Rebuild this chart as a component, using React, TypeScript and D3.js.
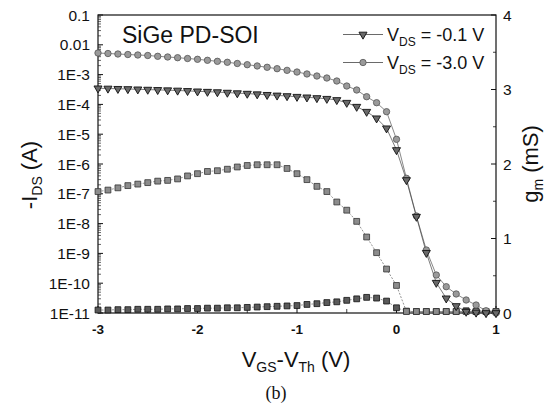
import React from "react";
import * as d3 from "d3";

// V_GS - V_Th (V)
const VGS = [
  -3.0, -2.9, -2.8, -2.7, -2.6, -2.5, -2.4, -2.3, -2.2, -2.1, -2.0, -1.9, -1.8, -1.7,
  -1.6, -1.5, -1.4, -1.3, -1.2, -1.1, -1.0, -0.9, -0.8, -0.7, -0.6, -0.5, -0.4, -0.3,
  -0.2, -0.1, 0.0, 0.1, 0.2, 0.3, 0.4, 0.5, 0.6, 0.7, 0.8, 0.9, 1.0,
];

// -I_DS (A), V_DS = -0.1 V (triangles)
const ID_VDS01 = [
  3.47e-4, 3.42e-4, 3.34e-4, 3.29e-4, 3.21e-4, 3.14e-4, 3.07e-4, 3.0e-4, 2.93e-4, 2.84e-4,
  2.75e-4, 2.67e-4, 2.59e-4, 2.49e-4, 2.39e-4, 2.3e-4, 2.2e-4, 2.1e-4, 2.0e-4, 1.91e-4,
  1.81e-4, 1.73e-4, 1.64e-4, 1.55e-4, 1.41e-4, 1.14e-4, 8.38e-5, 5.69e-5, 3.42e-5, 1.58e-5,
  2.95e-6, 2.9e-7, 1.71e-8, 1.05e-9, 1.04e-10, 3.11e-11, 1.72e-11, 1.11e-11, 1.04e-11, 1.0e-11,
  1.0e-11,
];

// -I_DS (A), V_DS = -3.0 V (circles)
const ID_VDS30 = [
  5.31e-3, 5.1e-3, 4.91e-3, 4.72e-3, 4.55e-3, 4.38e-3, 4.11e-3, 3.9e-3, 3.69e-3, 3.47e-3,
  3.26e-3, 3.02e-3, 2.79e-3, 2.59e-3, 2.36e-3, 2.15e-3, 1.95e-3, 1.76e-3, 1.58e-3, 1.39e-3,
  1.22e-3, 1.05e-3, 8.97e-4, 7.69e-4, 6.1e-4, 4.14e-4, 3.04e-4, 1.81e-4, 1.14e-4, 5.69e-5,
  6.74e-6, 3.31e-7, 1.8e-8, 1.3e-9, 1.88e-10, 7.63e-11, 4.35e-11, 2.73e-11, 1.85e-11, 1.19e-11,
  1.0e-11,
];

// g_m (mS), V_DS = -3.0 V (upper squares)
const GM_VDS30 = [
  1.63, 1.65, 1.68, 1.71, 1.73, 1.75, 1.77, 1.78, 1.8, 1.84, 1.87, 1.9, 1.91, 1.93, 1.96,
  1.98, 1.99, 1.99, 1.99, 1.94, 1.87, 1.79, 1.7, 1.63, 1.49, 1.38, 1.23, 1.02, 0.81, 0.59,
  0.37, 0.02, 0.02, 0.02, 0.02, 0.02, 0.02, 0.02, 0.02, 0.02, 0.02,
];

// g_m (mS), V_DS = -0.1 V (lower squares)
const GM_VDS01 = [
  0.04, 0.04, 0.045, 0.045, 0.05, 0.05, 0.05, 0.055, 0.055, 0.06, 0.06, 0.065, 0.065, 0.07,
  0.07, 0.075, 0.08, 0.085, 0.09, 0.095, 0.1, 0.115, 0.125, 0.14, 0.15, 0.17, 0.19, 0.21,
  0.2, 0.16, 0.07, 0.025, 0.02, 0.02, 0.02, 0.02, 0.02, 0.03, 0.02, 0.02, 0.02,
];

const LEFT_TICK_VALUES = [1e-1, 1e-2, 1e-3, 1e-4, 1e-5, 1e-6, 1e-7, 1e-8, 1e-9, 1e-10, 1e-11];
const LEFT_TICK_LABELS = ["0.1", "0.01", "1E-3", "1E-4", "1E-5", "1E-6", "1E-7", "1E-8", "1E-9", "1E-10", "1E-11"];
const RIGHT_TICKS = [0, 1, 2, 3, 4];
const X_TICKS = [-3, -2, -1, 0, 1];

const SANS = "'Liberation Sans', Arial, Helvetica, sans-serif";

const App = () => {
  const width = 552;
  const height = 406;
  const left = 98, right = 496, top = 15, bottom = 313;

  const x = d3.scaleLinear().domain([-3, 1]).range([left, right]);
  const yL = d3.scaleLog().domain([1e-11, 0.1]).range([bottom, top]);
  const yR = d3.scaleLinear().domain([0, 4]).range([bottom, top]);

  const lineL = d3.line<number>().x((_, i) => x(VGS[i])).y((d) => yL(d));
  const lineR = d3.line<number>().x((_, i) => x(VGS[i])).y((d) => yR(d));

  const tri = d3.symbol().type(d3.symbolTriangle).size(28)();
  const sq = d3.symbol().type(d3.symbolSquare).size(34)();

  // minor log ticks
  const minorLog: number[] = [];
  for (let k = -11; k < -1; k++) {
    for (let m = 2; m <= 9; m++) minorLog.push(m * Math.pow(10, k));
  }
  const rightMinor = d3.range(0.5, 4, 1);
  const xMinor = d3.range(-2.5, 1, 1);

  const triMarker = (cx: number, cy: number, key: React.Key) => (
    <path key={key} d={tri!} transform={`translate(${cx},${cy}) rotate(180)`} fill="#6a6a6a" stroke="#111" strokeWidth={0.9} />
  );
  const circMarker = (cx: number, cy: number, key: React.Key) => (
    <circle key={key} cx={cx} cy={cy} r={3.2} fill="#9a9a9a" stroke="#555" strokeWidth={0.8} />
  );

  return (
    <svg width={width} height={height} style={{ position: "absolute", left: 0, top: 0, background: "#fff" }}>
      {/* frame */}
      <rect x={left} y={top} width={right - left} height={bottom - top} fill="none" stroke="#111" strokeWidth={1.2} />

      {/* left axis ticks */}
      {LEFT_TICK_VALUES.map((v, i) => (
        <g key={"lt" + i}>
          <line x1={left} x2={left + 5} y1={yL(v)} y2={yL(v)} stroke="#111" />
          <text x={90} y={yL(v)} dy="0.36em" textAnchor="end" fontFamily={SANS} fontSize={15.5} fill="#111">
            {LEFT_TICK_LABELS[i]}
          </text>
        </g>
      ))}
      {minorLog.map((v, i) => (
        <line key={"lm" + i} x1={left} x2={left + 3} y1={yL(v)} y2={yL(v)} stroke="#222" strokeWidth={0.7} />
      ))}

      {/* right axis ticks */}
      {RIGHT_TICKS.map((v) => (
        <g key={"rt" + v}>
          <line x1={right - 5} x2={right} y1={yR(v)} y2={yR(v)} stroke="#111" />
          <text x={503} y={yR(v)} dy="0.36em" fontFamily={SANS} fontSize={15.5} fill="#111">
            {v}
          </text>
        </g>
      ))}
      {rightMinor.map((v) => (
        <line key={"rm" + v} x1={right - 3} x2={right} y1={yR(v)} y2={yR(v)} stroke="#111" strokeWidth={0.8} />
      ))}

      {/* bottom axis ticks */}
      {X_TICKS.map((v) => (
        <g key={"xt" + v}>
          <line x1={x(v)} x2={x(v)} y1={bottom} y2={bottom - 7} stroke="#111" />
          <text x={x(v)} y={334} textAnchor="middle" fontFamily={SANS} fontWeight="bold" fontSize={13.5} fill="#111">
            {v}
          </text>
        </g>
      ))}
      {xMinor.map((v) => (
        <line key={"xm" + v} x1={x(v)} x2={x(v)} y1={bottom} y2={bottom - 4} stroke="#111" strokeWidth={0.8} />
      ))}

      {/* connecting lines */}
      <path d={lineR(GM_VDS01)!} fill="none" stroke="#666" strokeWidth={0.7} strokeDasharray="2,1.5" />
      <path d={lineR(GM_VDS30)!} fill="none" stroke="#666" strokeWidth={0.7} strokeDasharray="2,1.5" />
      <path d={lineL(ID_VDS30)!} fill="none" stroke="#555" strokeWidth={0.7} />
      <path d={lineL(ID_VDS01)!} fill="none" stroke="#444" strokeWidth={0.7} />

      {/* markers */}
      {GM_VDS01.map((d, i) => (
        <path key={"g1" + i} d={sq!} transform={`translate(${x(VGS[i])},${yR(d)})`} fill="#5a5a5a" stroke="#111" strokeWidth={0.8} />
      ))}
      {GM_VDS30.map((d, i) => (
        <path key={"g3" + i} d={sq!} transform={`translate(${x(VGS[i])},${yR(d)})`} fill="#8c8c8c" stroke="#333" strokeWidth={0.8} />
      ))}
      {ID_VDS30.map((d, i) => circMarker(x(VGS[i]), yL(d), "c" + i))}
      {ID_VDS01.map((d, i) => triMarker(x(VGS[i]), yL(d), "t" + i))}

      {/* inset label */}
      <text x={122} y={43} fontFamily={SANS} fontSize={23} fill="#111">SiGe PD-SOI</text>

      {/* legend */}
      <line x1={343} x2={383} y1={34.5} y2={34.5} stroke="#444" strokeWidth={0.8} />
      {triMarker(363, 34.5, "lt")}
      <text x={387} y={41} fontFamily={SANS} fontSize={18} fill="#111">
        V<tspan fontSize={12} dy={5}>DS</tspan>
        <tspan dy={-5}> = -0.1 V</tspan>
      </text>
      <line x1={343} x2={383} y1={62.5} y2={62.5} stroke="#444" strokeWidth={0.8} />
      {circMarker(363, 62.5, "lc")}
      <text x={387} y={69} fontFamily={SANS} fontSize={18} fill="#111">
        V<tspan fontSize={12} dy={5}>DS</tspan>
        <tspan dy={-5}> = -3.0 V</tspan>
      </text>

      {/* axis titles */}
      <text transform="translate(37,175) rotate(-90)" textAnchor="middle" fontFamily={SANS} fontSize={22} fill="#111">
        -I<tspan fontSize={14} dy={5}>DS</tspan>
        <tspan dy={-5}> (A)</tspan>
      </text>
      <text transform="translate(538,164) rotate(-90)" textAnchor="middle" fontFamily={SANS} fontSize={22} fill="#111">
        g<tspan fontSize={14} dy={5}>m</tspan>
        <tspan dy={-5}> (mS)</tspan>
      </text>
      <text x={296} y={367} textAnchor="middle" fontFamily={SANS} fontSize={22} fill="#111">
        V<tspan fontSize={14} dy={5}>GS</tspan>
        <tspan dy={-5}>-V</tspan>
        <tspan fontSize={14} dy={5}>Th</tspan>
        <tspan dy={-5}> (V)</tspan>
      </text>
      <text x={276} y={399} textAnchor="middle" fontFamily="'Liberation Serif', 'Times New Roman', serif" fontSize={18} fill="#111">
        (b)
      </text>
    </svg>
  );
};

export default App;
